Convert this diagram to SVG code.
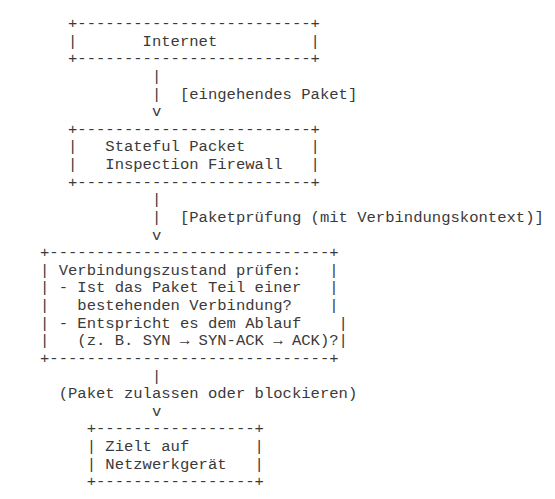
<svg xmlns="http://www.w3.org/2000/svg" width="555" height="499" viewBox="0 0 555 499">
<style>
  text { font-family: "Liberation Mono", "Courier New", monospace; font-size: 15.55px; fill: #3a3a3a; white-space: pre; }
</style>
<rect width="555" height="499" fill="#ffffff"/>
<g id="internet" xml:space="preserve">
  <text x="67.99" y="28.0">+-------------------------+</text>
  <text x="67.99" y="45.63">|       Internet          |</text>
  <text x="67.99" y="63.26">+-------------------------+</text>
</g>
<g id="firewall" xml:space="preserve">
  <text x="67.99" y="133.78">+-------------------------+</text>
  <text x="67.99" y="151.41">|   Stateful Packet       |</text>
  <text x="67.99" y="169.04">|   Inspection Firewall   |</text>
  <text x="67.99" y="186.67">+-------------------------+</text>
</g>
<g id="state-check" xml:space="preserve">
  <text x="40" y="257.19">+------------------------------+</text>
  <text x="40" y="274.82">| Verbindungszustand prüfen:   |</text>
  <text x="40" y="292.45">| - Ist das Paket Teil einer   |</text>
  <text x="40" y="310.08">|   bestehenden Verbindung?    |</text>
  <text x="40" y="327.71">| - Entspricht es dem Ablauf    |</text>
  <text x="40" y="345.34">|   (z. B. SYN → SYN-ACK → ACK)?|</text>
  <text x="40" y="362.97">+------------------------------+</text>
</g>
<g id="target" xml:space="preserve">
  <text x="86.65" y="433.49">+-----------------+</text>
  <text x="86.65" y="451.12">| Zielt auf       |</text>
  <text x="86.65" y="468.75">| Netzwerkgerät   |</text>
  <text x="86.65" y="486.38">+-----------------+</text>
</g>
<g id="connectors" xml:space="preserve">
  <text x="151.96" y="80.89">|</text>
  <text x="151.96" y="98.52">|  [eingehendes Paket]</text>
  <text x="151.96" y="116.15">v</text>
  <text x="151.96" y="204.3">|</text>
  <text x="151.96" y="221.93">|  [Paketprüfung (mit Verbindungskontext)]</text>
  <text x="151.96" y="239.56">v</text>
  <text x="151.96" y="380.6">|</text>
  <text x="58.66" y="398.23">(Paket zulassen oder blockieren)</text>
  <text x="151.96" y="415.86">v</text>
</g>
</svg>
